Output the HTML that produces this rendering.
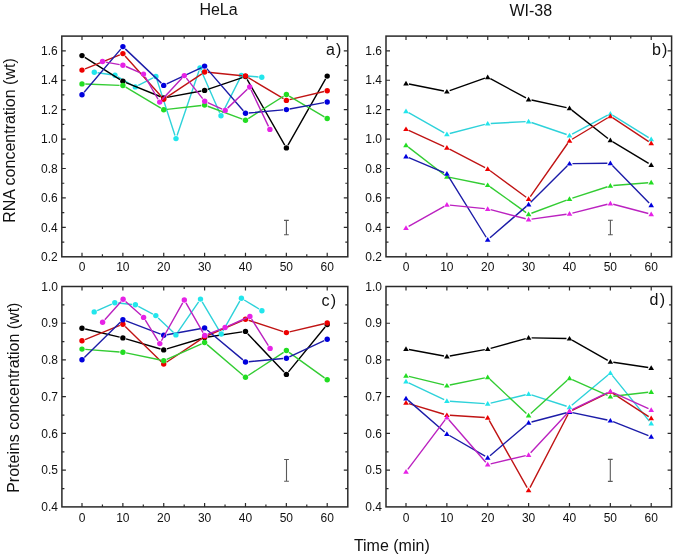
<!DOCTYPE html>
<html><head><meta charset="utf-8"><title>RNA and protein concentration</title>
<style>
html,body{margin:0;padding:0;background:#fff;}
body{width:675px;height:558px;overflow:hidden;font-family:"Liberation Sans",sans-serif;}
svg{display:block;will-change:transform;}
</style></head><body>
<svg width="675" height="558" viewBox="0 0 675 558" font-family="Liberation Sans, sans-serif" font-size="12" fill="#111">
<rect width="675" height="558" fill="#fff"/>
<path d="M82.00 256.80v-4.0M82.00 36.10v4.0M102.44 256.80v-2.5M102.44 36.10v2.5M122.87 256.80v-4.0M122.87 36.10v4.0M143.31 256.80v-2.5M143.31 36.10v2.5M163.74 256.80v-4.0M163.74 36.10v4.0M184.18 256.80v-2.5M184.18 36.10v2.5M204.61 256.80v-4.0M204.61 36.10v4.0M225.04 256.80v-2.5M225.04 36.10v2.5M245.48 256.80v-4.0M245.48 36.10v4.0M265.91 256.80v-2.5M265.91 36.10v2.5M286.35 256.80v-4.0M286.35 36.10v4.0M306.78 256.80v-2.5M306.78 36.10v2.5M327.22 256.80v-4.0M327.22 36.10v4.0M61.80 242.09h2.5M347.80 242.09h-2.5M61.80 227.37h4.0M347.80 227.37h-4.0M61.80 212.66h2.5M347.80 212.66h-2.5M61.80 197.95h4.0M347.80 197.95h-4.0M61.80 183.23h2.5M347.80 183.23h-2.5M61.80 168.52h4.0M347.80 168.52h-4.0M61.80 153.81h2.5M347.80 153.81h-2.5M61.80 139.09h4.0M347.80 139.09h-4.0M61.80 124.38h2.5M347.80 124.38h-2.5M61.80 109.67h4.0M347.80 109.67h-4.0M61.80 94.95h2.5M347.80 94.95h-2.5M61.80 80.24h4.0M347.80 80.24h-4.0M61.80 65.53h2.5M347.80 65.53h-2.5M61.80 50.81h4.0M347.80 50.81h-4.0" stroke="#2a2a2a" stroke-width="1.2" fill="none"/>
<rect x="61.8" y="36.1" width="286.00" height="220.70" fill="none" stroke="#2a2a2a" stroke-width="1.5"/>
<text x="82.00" y="271.40" text-anchor="middle">0</text>
<text x="122.87" y="271.40" text-anchor="middle">10</text>
<text x="163.74" y="271.40" text-anchor="middle">20</text>
<text x="204.61" y="271.40" text-anchor="middle">30</text>
<text x="245.48" y="271.40" text-anchor="middle">40</text>
<text x="286.35" y="271.40" text-anchor="middle">50</text>
<text x="327.22" y="271.40" text-anchor="middle">60</text>
<text x="57.80" y="261.00" text-anchor="end">0.2</text>
<text x="57.80" y="231.57" text-anchor="end">0.4</text>
<text x="57.80" y="202.15" text-anchor="end">0.6</text>
<text x="57.80" y="172.72" text-anchor="end">0.8</text>
<text x="57.80" y="143.29" text-anchor="end">1.0</text>
<text x="57.80" y="113.87" text-anchor="end">1.2</text>
<text x="57.80" y="84.44" text-anchor="end">1.4</text>
<text x="57.80" y="55.01" text-anchor="end">1.6</text>
<text x="325.9" y="55.1" font-size="16">a</text>
<text x="341.4" y="55.1" text-anchor="end" font-size="16">)</text>
<path d="M406.00 256.80v-4.0M406.00 36.10v4.0M426.44 256.80v-2.5M426.44 36.10v2.5M446.87 256.80v-4.0M446.87 36.10v4.0M467.31 256.80v-2.5M467.31 36.10v2.5M487.74 256.80v-4.0M487.74 36.10v4.0M508.18 256.80v-2.5M508.18 36.10v2.5M528.61 256.80v-4.0M528.61 36.10v4.0M549.04 256.80v-2.5M549.04 36.10v2.5M569.48 256.80v-4.0M569.48 36.10v4.0M589.91 256.80v-2.5M589.91 36.10v2.5M610.35 256.80v-4.0M610.35 36.10v4.0M630.78 256.80v-2.5M630.78 36.10v2.5M651.22 256.80v-4.0M651.22 36.10v4.0M386.00 242.09h2.5M671.60 242.09h-2.5M386.00 227.37h4.0M671.60 227.37h-4.0M386.00 212.66h2.5M671.60 212.66h-2.5M386.00 197.95h4.0M671.60 197.95h-4.0M386.00 183.23h2.5M671.60 183.23h-2.5M386.00 168.52h4.0M671.60 168.52h-4.0M386.00 153.81h2.5M671.60 153.81h-2.5M386.00 139.09h4.0M671.60 139.09h-4.0M386.00 124.38h2.5M671.60 124.38h-2.5M386.00 109.67h4.0M671.60 109.67h-4.0M386.00 94.95h2.5M671.60 94.95h-2.5M386.00 80.24h4.0M671.60 80.24h-4.0M386.00 65.53h2.5M671.60 65.53h-2.5M386.00 50.81h4.0M671.60 50.81h-4.0" stroke="#2a2a2a" stroke-width="1.2" fill="none"/>
<rect x="386.0" y="36.1" width="285.60" height="220.70" fill="none" stroke="#2a2a2a" stroke-width="1.5"/>
<text x="406.00" y="271.40" text-anchor="middle">0</text>
<text x="446.87" y="271.40" text-anchor="middle">10</text>
<text x="487.74" y="271.40" text-anchor="middle">20</text>
<text x="528.61" y="271.40" text-anchor="middle">30</text>
<text x="569.48" y="271.40" text-anchor="middle">40</text>
<text x="610.35" y="271.40" text-anchor="middle">50</text>
<text x="651.22" y="271.40" text-anchor="middle">60</text>
<text x="382.00" y="261.00" text-anchor="end">0.2</text>
<text x="382.00" y="231.57" text-anchor="end">0.4</text>
<text x="382.00" y="202.15" text-anchor="end">0.6</text>
<text x="382.00" y="172.72" text-anchor="end">0.8</text>
<text x="382.00" y="143.29" text-anchor="end">1.0</text>
<text x="382.00" y="113.87" text-anchor="end">1.2</text>
<text x="382.00" y="84.44" text-anchor="end">1.4</text>
<text x="382.00" y="55.01" text-anchor="end">1.6</text>
<text x="652.0" y="55.1" font-size="16">b</text>
<text x="667.4" y="55.1" text-anchor="end" font-size="16">)</text>
<path d="M82.00 506.90v-4.0M82.00 286.50v4.0M102.44 506.90v-2.5M102.44 286.50v2.5M122.87 506.90v-4.0M122.87 286.50v4.0M143.31 506.90v-2.5M143.31 286.50v2.5M163.74 506.90v-4.0M163.74 286.50v4.0M184.18 506.90v-2.5M184.18 286.50v2.5M204.61 506.90v-4.0M204.61 286.50v4.0M225.04 506.90v-2.5M225.04 286.50v2.5M245.48 506.90v-4.0M245.48 286.50v4.0M265.91 506.90v-2.5M265.91 286.50v2.5M286.35 506.90v-4.0M286.35 286.50v4.0M306.78 506.90v-2.5M306.78 286.50v2.5M327.22 506.90v-4.0M327.22 286.50v4.0M61.90 488.53h2.5M347.80 488.53h-2.5M61.90 470.17h4.0M347.80 470.17h-4.0M61.90 451.80h2.5M347.80 451.80h-2.5M61.90 433.43h4.0M347.80 433.43h-4.0M61.90 415.07h2.5M347.80 415.07h-2.5M61.90 396.70h4.0M347.80 396.70h-4.0M61.90 378.33h2.5M347.80 378.33h-2.5M61.90 359.97h4.0M347.80 359.97h-4.0M61.90 341.60h2.5M347.80 341.60h-2.5M61.90 323.23h4.0M347.80 323.23h-4.0M61.90 304.87h2.5M347.80 304.87h-2.5" stroke="#2a2a2a" stroke-width="1.2" fill="none"/>
<rect x="61.9" y="286.5" width="285.90" height="220.40" fill="none" stroke="#2a2a2a" stroke-width="1.5"/>
<text x="82.00" y="521.50" text-anchor="middle">0</text>
<text x="122.87" y="521.50" text-anchor="middle">10</text>
<text x="163.74" y="521.50" text-anchor="middle">20</text>
<text x="204.61" y="521.50" text-anchor="middle">30</text>
<text x="245.48" y="521.50" text-anchor="middle">40</text>
<text x="286.35" y="521.50" text-anchor="middle">50</text>
<text x="327.22" y="521.50" text-anchor="middle">60</text>
<text x="57.90" y="511.10" text-anchor="end">0.4</text>
<text x="57.90" y="474.37" text-anchor="end">0.5</text>
<text x="57.90" y="437.63" text-anchor="end">0.6</text>
<text x="57.90" y="400.90" text-anchor="end">0.7</text>
<text x="57.90" y="364.17" text-anchor="end">0.8</text>
<text x="57.90" y="327.43" text-anchor="end">0.9</text>
<text x="57.90" y="290.70" text-anchor="end">1.0</text>
<text x="321.4" y="306.3" font-size="16">c</text>
<text x="336.0" y="306.3" text-anchor="end" font-size="16">)</text>
<path d="M406.00 506.90v-4.0M406.00 286.50v4.0M426.44 506.90v-2.5M426.44 286.50v2.5M446.87 506.90v-4.0M446.87 286.50v4.0M467.31 506.90v-2.5M467.31 286.50v2.5M487.74 506.90v-4.0M487.74 286.50v4.0M508.18 506.90v-2.5M508.18 286.50v2.5M528.61 506.90v-4.0M528.61 286.50v4.0M549.04 506.90v-2.5M549.04 286.50v2.5M569.48 506.90v-4.0M569.48 286.50v4.0M589.91 506.90v-2.5M589.91 286.50v2.5M610.35 506.90v-4.0M610.35 286.50v4.0M630.78 506.90v-2.5M630.78 286.50v2.5M651.22 506.90v-4.0M651.22 286.50v4.0M386.00 488.53h2.5M671.60 488.53h-2.5M386.00 470.17h4.0M671.60 470.17h-4.0M386.00 451.80h2.5M671.60 451.80h-2.5M386.00 433.43h4.0M671.60 433.43h-4.0M386.00 415.07h2.5M671.60 415.07h-2.5M386.00 396.70h4.0M671.60 396.70h-4.0M386.00 378.33h2.5M671.60 378.33h-2.5M386.00 359.97h4.0M671.60 359.97h-4.0M386.00 341.60h2.5M671.60 341.60h-2.5M386.00 323.23h4.0M671.60 323.23h-4.0M386.00 304.87h2.5M671.60 304.87h-2.5" stroke="#2a2a2a" stroke-width="1.2" fill="none"/>
<rect x="386.0" y="286.5" width="285.60" height="220.40" fill="none" stroke="#2a2a2a" stroke-width="1.5"/>
<text x="406.00" y="521.50" text-anchor="middle">0</text>
<text x="446.87" y="521.50" text-anchor="middle">10</text>
<text x="487.74" y="521.50" text-anchor="middle">20</text>
<text x="528.61" y="521.50" text-anchor="middle">30</text>
<text x="569.48" y="521.50" text-anchor="middle">40</text>
<text x="610.35" y="521.50" text-anchor="middle">50</text>
<text x="651.22" y="521.50" text-anchor="middle">60</text>
<text x="382.00" y="511.10" text-anchor="end">0.4</text>
<text x="382.00" y="474.37" text-anchor="end">0.5</text>
<text x="382.00" y="437.63" text-anchor="end">0.6</text>
<text x="382.00" y="400.90" text-anchor="end">0.7</text>
<text x="382.00" y="364.17" text-anchor="end">0.8</text>
<text x="382.00" y="327.43" text-anchor="end">0.9</text>
<text x="382.00" y="290.70" text-anchor="end">1.0</text>
<text x="649.6" y="305.3" font-size="16">d</text>
<text x="665.2" y="305.3" text-anchor="end" font-size="16">)</text>
<path d="M97.57 72.76L111.73 74.74M117.86 76.85L132.44 85.25M138.25 85.41L152.95 77.99M156.92 79.64L174.98 135.46M177.06 135.48L198.94 71.02M201.33 70.92L219.67 112.78M222.49 112.85L239.91 78.35M244.69 75.71L258.51 76.99" stroke="#2ed2da" stroke-width="1.4" fill="none"/>
<circle cx="94.3" cy="72.3" r="2.7" fill="#22e6ec"/>
<circle cx="115.0" cy="75.2" r="2.7" fill="#22e6ec"/>
<circle cx="135.3" cy="86.9" r="2.7" fill="#22e6ec"/>
<circle cx="155.9" cy="76.5" r="2.7" fill="#22e6ec"/>
<circle cx="176.0" cy="138.6" r="2.7" fill="#22e6ec"/>
<circle cx="200.0" cy="67.9" r="2.7" fill="#22e6ec"/>
<circle cx="221.0" cy="115.8" r="2.7" fill="#22e6ec"/>
<circle cx="241.4" cy="75.4" r="2.7" fill="#22e6ec"/>
<circle cx="261.8" cy="77.3" r="2.7" fill="#22e6ec"/>
<path d="M84.79 57.36L120.08 79.54M125.92 82.55L160.69 96.75M166.98 97.40L201.37 91.00M207.73 89.34L242.36 77.56M247.12 79.36L284.71 145.04M287.98 145.03L325.59 78.97" stroke="#000000" stroke-width="1.4" fill="none"/>
<circle cx="82.0" cy="55.6" r="2.7" fill="#000000"/>
<circle cx="122.9" cy="81.3" r="2.7" fill="#000000"/>
<circle cx="163.7" cy="98.0" r="2.7" fill="#000000"/>
<circle cx="204.6" cy="90.4" r="2.7" fill="#000000"/>
<circle cx="245.5" cy="76.5" r="2.7" fill="#000000"/>
<circle cx="286.4" cy="147.9" r="2.7" fill="#000000"/>
<circle cx="327.2" cy="76.1" r="2.7" fill="#000000"/>
<path d="M85.06 68.86L119.81 54.84M125.07 56.06L161.54 96.74M166.49 97.37L201.86 73.83M207.89 72.32L242.20 75.68M248.31 77.69L283.52 98.71M289.56 99.64L324.01 91.46" stroke="#c01414" stroke-width="1.4" fill="none"/>
<circle cx="82.0" cy="70.1" r="2.7" fill="#ee0000"/>
<circle cx="122.9" cy="53.6" r="2.7" fill="#ee0000"/>
<circle cx="163.7" cy="99.2" r="2.7" fill="#ee0000"/>
<circle cx="204.6" cy="72.0" r="2.7" fill="#ee0000"/>
<circle cx="245.5" cy="76.0" r="2.7" fill="#ee0000"/>
<circle cx="286.4" cy="100.4" r="2.7" fill="#ee0000"/>
<circle cx="327.2" cy="90.7" r="2.7" fill="#ee0000"/>
<path d="M85.30 84.03L119.57 85.37M125.71 87.19L160.90 108.11M167.02 109.42L201.33 105.48M207.70 106.25L242.39 119.15M248.27 118.54L283.56 96.26M289.20 96.17L324.37 116.83" stroke="#33cc33" stroke-width="1.4" fill="none"/>
<circle cx="82.0" cy="83.9" r="2.7" fill="#22dd22"/>
<circle cx="122.9" cy="85.5" r="2.7" fill="#22dd22"/>
<circle cx="163.7" cy="109.8" r="2.7" fill="#22dd22"/>
<circle cx="204.6" cy="105.1" r="2.7" fill="#22dd22"/>
<circle cx="245.5" cy="120.3" r="2.7" fill="#22dd22"/>
<circle cx="286.4" cy="94.5" r="2.7" fill="#22dd22"/>
<circle cx="327.2" cy="118.5" r="2.7" fill="#22dd22"/>
<path d="M84.13 92.28L120.74 49.12M125.26 48.87L161.35 83.13M166.72 83.99L201.63 67.51M206.77 68.59L243.32 110.81M248.77 113.00L283.06 109.90M289.59 109.00L323.98 102.60" stroke="#1c1ca8" stroke-width="1.4" fill="none"/>
<circle cx="82.0" cy="94.8" r="2.7" fill="#0000dd"/>
<circle cx="122.9" cy="46.6" r="2.7" fill="#0000dd"/>
<circle cx="163.7" cy="85.4" r="2.7" fill="#0000dd"/>
<circle cx="204.6" cy="66.1" r="2.7" fill="#0000dd"/>
<circle cx="245.5" cy="113.3" r="2.7" fill="#0000dd"/>
<circle cx="286.4" cy="109.6" r="2.7" fill="#0000dd"/>
<circle cx="327.2" cy="102.0" r="2.7" fill="#0000dd"/>
<path d="M105.75 62.09L119.65 64.61M125.93 66.51L140.47 72.79M145.15 76.96L158.05 99.24M161.95 99.68L182.05 78.02M186.36 78.18L202.64 98.62M207.71 102.55L222.19 109.05M227.59 108.12L247.31 89.28M251.12 89.98L268.48 126.42" stroke="#bb22c0" stroke-width="1.4" fill="none"/>
<circle cx="102.5" cy="61.5" r="2.7" fill="#e622e6"/>
<circle cx="122.9" cy="65.2" r="2.7" fill="#e622e6"/>
<circle cx="143.5" cy="74.1" r="2.7" fill="#e622e6"/>
<circle cx="159.7" cy="102.1" r="2.7" fill="#e622e6"/>
<circle cx="184.3" cy="75.6" r="2.7" fill="#e622e6"/>
<circle cx="204.7" cy="101.2" r="2.7" fill="#e622e6"/>
<circle cx="225.2" cy="110.4" r="2.7" fill="#e622e6"/>
<circle cx="249.7" cy="87.0" r="2.7" fill="#e622e6"/>
<circle cx="269.9" cy="129.4" r="2.7" fill="#e622e6"/>
<path d="M408.61 112.68L444.26 132.82M449.77 133.54L484.84 124.36M490.74 123.45L525.61 121.65M531.45 122.47L566.64 134.53M572.13 134.09L607.70 115.11M612.89 115.29L648.68 137.71" stroke="#2ed2da" stroke-width="1.4" fill="none"/>
<path d="M406.0 108.5L408.8 113.2L403.2 113.2Z" fill="#22e6ec"/>
<path d="M446.9 131.6L449.7 136.3L444.1 136.3Z" fill="#22e6ec"/>
<path d="M487.7 120.9L490.5 125.6L484.9 125.6Z" fill="#22e6ec"/>
<path d="M528.6 118.8L531.4 123.5L525.8 123.5Z" fill="#22e6ec"/>
<path d="M569.5 132.8L572.3 137.5L566.7 137.5Z" fill="#22e6ec"/>
<path d="M610.4 111.0L613.1 115.7L607.6 115.7Z" fill="#22e6ec"/>
<path d="M651.2 136.6L654.0 141.3L648.4 141.3Z" fill="#22e6ec"/>
<path d="M408.94 83.99L443.93 91.01M449.70 90.60L484.91 78.20M490.38 78.63L525.97 97.97M531.54 100.04L566.55 107.66M571.84 110.15L607.99 138.45M612.92 141.85L648.65 163.35" stroke="#000000" stroke-width="1.4" fill="none"/>
<path d="M406.0 80.7L408.8 85.4L403.2 85.4Z" fill="#000000"/>
<path d="M446.9 88.9L449.7 93.6L444.1 93.6Z" fill="#000000"/>
<path d="M487.7 74.5L490.5 79.2L484.9 79.2Z" fill="#000000"/>
<path d="M528.6 96.7L531.4 101.4L525.8 101.4Z" fill="#000000"/>
<path d="M569.5 105.6L572.3 110.3L566.7 110.3Z" fill="#000000"/>
<path d="M610.4 137.6L613.1 142.3L607.6 142.3Z" fill="#000000"/>
<path d="M651.2 162.2L654.0 166.9L648.4 166.9Z" fill="#000000"/>
<path d="M408.73 130.35L444.14 146.55M449.53 149.18L485.08 167.62M490.16 170.78L526.19 197.22M530.33 196.54L567.76 143.26M572.05 139.25L607.78 117.75M612.85 117.85L648.72 141.55" stroke="#c01414" stroke-width="1.4" fill="none"/>
<path d="M406.0 126.4L408.8 131.1L403.2 131.1Z" fill="#ee0000"/>
<path d="M446.9 145.1L449.7 149.8L444.1 149.8Z" fill="#ee0000"/>
<path d="M487.7 166.3L490.5 171.0L484.9 171.0Z" fill="#ee0000"/>
<path d="M528.6 196.3L531.4 201.0L525.8 201.0Z" fill="#ee0000"/>
<path d="M569.5 138.1L572.3 142.8L566.7 142.8Z" fill="#ee0000"/>
<path d="M610.4 113.5L613.1 118.2L607.6 118.2Z" fill="#ee0000"/>
<path d="M651.2 140.5L654.0 145.2L648.4 145.2Z" fill="#ee0000"/>
<path d="M408.38 147.13L444.49 174.97M449.81 177.40L484.80 184.50M490.18 186.84L526.17 212.56M531.42 213.25L566.67 200.05M572.33 198.08L607.50 186.72M613.34 185.56L648.23 182.74" stroke="#33cc33" stroke-width="1.4" fill="none"/>
<path d="M406.0 142.6L408.8 147.3L403.2 147.3Z" fill="#22dd22"/>
<path d="M446.9 174.1L449.7 178.8L444.1 178.8Z" fill="#22dd22"/>
<path d="M487.7 182.4L490.5 187.1L484.9 187.1Z" fill="#22dd22"/>
<path d="M528.6 211.6L531.4 216.3L525.8 216.3Z" fill="#22dd22"/>
<path d="M569.5 196.3L572.3 201.0L566.7 201.0Z" fill="#22dd22"/>
<path d="M610.4 183.1L613.1 187.8L607.6 187.8Z" fill="#22dd22"/>
<path d="M651.2 179.8L654.0 184.5L648.4 184.5Z" fill="#22dd22"/>
<path d="M408.76 157.67L444.11 172.63M448.45 176.35L486.16 237.25M490.01 237.84L526.34 206.36M530.73 202.28L567.36 165.72M572.48 163.58L607.35 163.32M612.44 165.45L649.13 203.05" stroke="#1c1ca8" stroke-width="1.4" fill="none"/>
<path d="M406.0 153.8L408.8 158.5L403.2 158.5Z" fill="#0000dd"/>
<path d="M446.9 171.1L449.7 175.8L444.1 175.8Z" fill="#0000dd"/>
<path d="M487.7 237.1L490.5 241.8L484.9 241.8Z" fill="#0000dd"/>
<path d="M528.6 201.7L531.4 206.4L525.8 206.4Z" fill="#0000dd"/>
<path d="M569.5 160.9L572.3 165.6L566.7 165.6Z" fill="#0000dd"/>
<path d="M610.4 160.6L613.1 165.3L607.6 165.3Z" fill="#0000dd"/>
<path d="M651.2 202.5L654.0 207.2L648.4 207.2Z" fill="#0000dd"/>
<path d="M408.61 226.42L444.26 206.28M449.86 205.10L484.75 208.60M490.64 209.65L525.71 218.75M531.58 219.09L566.51 214.21M572.39 213.07L607.44 204.23M613.25 204.27L648.32 213.53" stroke="#bb22c0" stroke-width="1.4" fill="none"/>
<path d="M406.0 225.2L408.8 229.9L403.2 229.9Z" fill="#e622e6"/>
<path d="M446.9 202.1L449.7 206.8L444.1 206.8Z" fill="#e622e6"/>
<path d="M487.7 206.2L490.5 210.9L484.9 210.9Z" fill="#e622e6"/>
<path d="M528.6 216.8L531.4 221.5L525.8 221.5Z" fill="#e622e6"/>
<path d="M569.5 211.1L572.3 215.8L566.7 215.8Z" fill="#e622e6"/>
<path d="M610.4 200.8L613.1 205.5L607.6 205.5Z" fill="#e622e6"/>
<path d="M651.2 211.6L654.0 216.3L648.4 216.3Z" fill="#e622e6"/>
<path d="M85.21 329.05L119.66 337.15M126.04 338.83L160.57 348.97M166.90 348.94L201.45 338.46M207.87 337.01L242.22 331.89M247.75 333.79L284.08 372.01M288.44 371.85L325.13 327.05" stroke="#000000" stroke-width="1.4" fill="none"/>
<circle cx="82.0" cy="328.3" r="2.7" fill="#000000"/>
<circle cx="122.9" cy="337.9" r="2.7" fill="#000000"/>
<circle cx="163.7" cy="349.9" r="2.7" fill="#000000"/>
<circle cx="204.6" cy="337.5" r="2.7" fill="#000000"/>
<circle cx="245.5" cy="331.4" r="2.7" fill="#000000"/>
<circle cx="286.4" cy="374.4" r="2.7" fill="#000000"/>
<circle cx="327.2" cy="324.5" r="2.7" fill="#000000"/>
<path d="M85.06 339.56L119.81 325.44M125.23 326.51L161.38 361.79M166.48 362.27L201.87 338.63M207.64 335.49L242.45 320.51M248.62 320.23L283.21 331.57M289.56 331.85L324.01 323.75" stroke="#c01414" stroke-width="1.4" fill="none"/>
<circle cx="82.0" cy="340.8" r="2.7" fill="#ee0000"/>
<circle cx="122.9" cy="324.2" r="2.7" fill="#ee0000"/>
<circle cx="163.7" cy="364.1" r="2.7" fill="#ee0000"/>
<circle cx="204.6" cy="336.8" r="2.7" fill="#ee0000"/>
<circle cx="245.5" cy="319.2" r="2.7" fill="#ee0000"/>
<circle cx="286.4" cy="332.6" r="2.7" fill="#ee0000"/>
<circle cx="327.2" cy="323.0" r="2.7" fill="#ee0000"/>
<path d="M85.29 349.35L119.58 351.95M126.10 352.87L160.51 360.03M166.75 359.36L201.60 343.84M207.12 344.64L242.97 375.16M248.24 375.49L283.59 352.31M289.03 352.42L324.54 377.88" stroke="#33cc33" stroke-width="1.4" fill="none"/>
<circle cx="82.0" cy="349.1" r="2.7" fill="#22dd22"/>
<circle cx="122.9" cy="352.2" r="2.7" fill="#22dd22"/>
<circle cx="163.7" cy="360.7" r="2.7" fill="#22dd22"/>
<circle cx="204.6" cy="342.5" r="2.7" fill="#22dd22"/>
<circle cx="245.5" cy="377.3" r="2.7" fill="#22dd22"/>
<circle cx="286.4" cy="350.5" r="2.7" fill="#22dd22"/>
<circle cx="327.2" cy="379.8" r="2.7" fill="#22dd22"/>
<path d="M84.36 357.39L120.51 322.11M125.96 320.97L160.65 334.13M166.99 334.71L201.36 328.49M207.14 330.01L242.95 359.89M248.77 361.69L283.06 358.51M289.35 356.81L324.22 340.69" stroke="#1c1ca8" stroke-width="1.4" fill="none"/>
<circle cx="82.0" cy="359.7" r="2.7" fill="#0000dd"/>
<circle cx="122.9" cy="319.8" r="2.7" fill="#0000dd"/>
<circle cx="163.7" cy="335.3" r="2.7" fill="#0000dd"/>
<circle cx="204.6" cy="327.9" r="2.7" fill="#0000dd"/>
<circle cx="245.5" cy="362.0" r="2.7" fill="#0000dd"/>
<circle cx="286.4" cy="358.2" r="2.7" fill="#0000dd"/>
<circle cx="327.2" cy="339.3" r="2.7" fill="#0000dd"/>
<path d="M97.21 310.55L111.79 304.05M118.08 303.03L132.12 304.47M138.32 306.34L152.88 314.06M158.18 317.89L173.52 332.61M177.77 332.18L198.63 301.82M202.18 301.94L219.52 331.16M222.83 331.13L239.77 301.17M244.22 300.01L259.08 308.99" stroke="#2ed2da" stroke-width="1.4" fill="none"/>
<circle cx="94.2" cy="311.9" r="2.7" fill="#22e6ec"/>
<circle cx="114.8" cy="302.7" r="2.7" fill="#22e6ec"/>
<circle cx="135.4" cy="304.8" r="2.7" fill="#22e6ec"/>
<circle cx="155.8" cy="315.6" r="2.7" fill="#22e6ec"/>
<circle cx="175.9" cy="334.9" r="2.7" fill="#22e6ec"/>
<circle cx="200.5" cy="299.1" r="2.7" fill="#22e6ec"/>
<circle cx="221.2" cy="334.0" r="2.7" fill="#22e6ec"/>
<circle cx="241.4" cy="298.3" r="2.7" fill="#22e6ec"/>
<circle cx="261.9" cy="310.7" r="2.7" fill="#22e6ec"/>
<path d="M104.80 319.74L120.90 301.76M125.57 301.48L141.13 315.22M145.34 320.21L158.06 340.79M161.42 340.72L182.68 302.88M185.95 302.86L203.05 332.54M207.78 334.21L222.02 328.69M228.11 326.15L246.89 317.75M251.66 319.19L268.34 345.61" stroke="#bb22c0" stroke-width="1.4" fill="none"/>
<circle cx="102.6" cy="322.2" r="2.7" fill="#e622e6"/>
<circle cx="123.1" cy="299.3" r="2.7" fill="#e622e6"/>
<circle cx="143.6" cy="317.4" r="2.7" fill="#e622e6"/>
<circle cx="159.8" cy="343.6" r="2.7" fill="#e622e6"/>
<circle cx="184.3" cy="300.0" r="2.7" fill="#e622e6"/>
<circle cx="204.7" cy="335.4" r="2.7" fill="#e622e6"/>
<circle cx="225.1" cy="327.5" r="2.7" fill="#e622e6"/>
<circle cx="249.9" cy="316.4" r="2.7" fill="#e622e6"/>
<circle cx="270.1" cy="348.4" r="2.7" fill="#e622e6"/>
<path d="M408.71 382.79L444.16 399.71M449.86 401.21L484.75 403.59M490.66 403.10L525.69 394.70M531.46 394.92L566.63 406.28M571.78 405.27L608.05 374.93M612.24 375.33L649.33 421.07" stroke="#2ed2da" stroke-width="1.4" fill="none"/>
<path d="M406.0 378.8L408.8 383.5L403.2 383.5Z" fill="#22e6ec"/>
<path d="M446.9 398.3L449.7 403.0L444.1 403.0Z" fill="#22e6ec"/>
<path d="M487.7 401.1L490.5 405.8L484.9 405.8Z" fill="#22e6ec"/>
<path d="M528.6 391.3L531.4 396.0L525.8 396.0Z" fill="#22e6ec"/>
<path d="M569.5 404.5L572.3 409.2L566.7 409.2Z" fill="#22e6ec"/>
<path d="M610.4 370.3L613.1 375.0L607.6 375.0Z" fill="#22e6ec"/>
<path d="M651.2 420.7L654.0 425.4L648.4 425.4Z" fill="#22e6ec"/>
<path d="M408.95 349.54L443.92 355.96M449.82 355.97L484.79 349.63M490.63 348.30L525.72 338.60M531.61 337.86L566.48 338.54M572.09 340.08L607.74 360.32M613.32 362.25L648.25 367.55" stroke="#000000" stroke-width="1.4" fill="none"/>
<path d="M406.0 346.3L408.8 351.0L403.2 351.0Z" fill="#000000"/>
<path d="M446.9 353.8L449.7 358.5L444.1 358.5Z" fill="#000000"/>
<path d="M487.7 346.4L490.5 351.1L484.9 351.1Z" fill="#000000"/>
<path d="M528.6 335.1L531.4 339.8L525.8 339.8Z" fill="#000000"/>
<path d="M569.5 335.9L572.3 340.6L566.7 340.6Z" fill="#000000"/>
<path d="M610.4 359.1L613.1 363.8L607.6 363.8Z" fill="#000000"/>
<path d="M651.2 365.3L654.0 370.0L648.4 370.0Z" fill="#000000"/>
<path d="M408.87 403.57L444.00 414.23M449.86 415.29L484.75 417.51M489.21 420.31L527.14 487.69M529.99 487.64L568.10 414.26M572.18 410.29L607.65 393.11M612.87 393.43L648.70 416.57" stroke="#c01414" stroke-width="1.4" fill="none"/>
<path d="M406.0 400.0L408.8 404.7L403.2 404.7Z" fill="#ee0000"/>
<path d="M446.9 412.4L449.7 417.1L444.1 417.1Z" fill="#ee0000"/>
<path d="M487.7 415.0L490.5 419.7L484.9 419.7Z" fill="#ee0000"/>
<path d="M528.6 487.6L531.4 492.3L525.8 492.3Z" fill="#ee0000"/>
<path d="M569.5 408.9L572.3 413.6L566.7 413.6Z" fill="#ee0000"/>
<path d="M610.4 389.1L613.1 393.8L607.6 393.8Z" fill="#ee0000"/>
<path d="M651.2 415.5L654.0 420.2L648.4 420.2Z" fill="#ee0000"/>
<path d="M408.92 376.41L443.95 384.89M449.81 385.00L484.80 377.90M489.93 379.35L526.42 413.45M530.83 413.48L567.26 380.32M572.22 379.53L607.61 395.37M613.33 396.26L648.24 392.24" stroke="#33cc33" stroke-width="1.4" fill="none"/>
<path d="M406.0 373.0L408.8 377.7L403.2 377.7Z" fill="#22dd22"/>
<path d="M446.9 382.9L449.7 387.6L444.1 387.6Z" fill="#22dd22"/>
<path d="M487.7 374.6L490.5 379.3L484.9 379.3Z" fill="#22dd22"/>
<path d="M528.6 412.8L531.4 417.5L525.8 417.5Z" fill="#22dd22"/>
<path d="M569.5 375.6L572.3 380.3L566.7 380.3Z" fill="#22dd22"/>
<path d="M610.4 393.9L613.1 398.6L607.6 398.6Z" fill="#22dd22"/>
<path d="M651.2 389.2L654.0 393.9L648.4 393.9Z" fill="#22dd22"/>
<path d="M408.26 400.37L444.61 432.03M449.47 435.50L485.14 456.20M490.02 455.75L526.33 424.75M531.51 422.03L566.58 412.77M572.42 412.62L607.41 419.98M613.14 421.71L648.43 435.69" stroke="#1c1ca8" stroke-width="1.4" fill="none"/>
<path d="M406.0 395.7L408.8 400.4L403.2 400.4Z" fill="#0000dd"/>
<path d="M446.9 431.3L449.7 436.0L444.1 436.0Z" fill="#0000dd"/>
<path d="M487.7 455.0L490.5 459.7L484.9 459.7Z" fill="#0000dd"/>
<path d="M528.6 420.1L531.4 424.8L525.8 424.8Z" fill="#0000dd"/>
<path d="M569.5 409.3L572.3 414.0L566.7 414.0Z" fill="#0000dd"/>
<path d="M610.4 417.9L613.1 422.6L607.6 422.6Z" fill="#0000dd"/>
<path d="M651.2 434.1L654.0 438.8L648.4 438.8Z" fill="#0000dd"/>
<path d="M407.80 469.40L445.07 419.90M448.84 419.76L485.77 462.24M490.66 463.82L525.69 455.68M530.65 452.80L567.44 413.20M572.18 409.70L607.65 392.60M613.08 392.54L648.49 408.66" stroke="#bb22c0" stroke-width="1.4" fill="none"/>
<path d="M406.0 469.1L408.8 473.8L403.2 473.8Z" fill="#e622e6"/>
<path d="M446.9 414.8L449.7 419.5L444.1 419.5Z" fill="#e622e6"/>
<path d="M487.7 461.8L490.5 466.5L484.9 466.5Z" fill="#e622e6"/>
<path d="M528.6 452.3L531.4 457.0L525.8 457.0Z" fill="#e622e6"/>
<path d="M569.5 408.3L572.3 413.0L566.7 413.0Z" fill="#e622e6"/>
<path d="M610.4 388.6L613.1 393.3L607.6 393.3Z" fill="#e622e6"/>
<path d="M651.2 407.2L654.0 411.9L648.4 411.9Z" fill="#e622e6"/>
<path d="M286.4 220.4V234.8M284.0 220.4h4.8M284.0 234.8h4.8" stroke="#5a5a5a" stroke-width="1.1" fill="none"/>
<path d="M610.4 220.3V234.8M608.0 220.3h4.8M608.0 234.8h4.8" stroke="#5a5a5a" stroke-width="1.1" fill="none"/>
<path d="M286.5 459.5V481.3M284.1 459.5h4.8M284.1 481.3h4.8" stroke="#5a5a5a" stroke-width="1.1" fill="none"/>
<path d="M610.3 459.4V481.4M607.9 459.4h4.8M607.9 481.4h4.8" stroke="#5a5a5a" stroke-width="1.1" fill="none"/>
<text x="218.5" y="14.6" text-anchor="middle" font-size="16">HeLa</text>
<text x="530.8" y="15.9" text-anchor="middle" font-size="16">WI-38</text>
<text x="391.8" y="551.2" text-anchor="middle" font-size="16">Time (min)</text>
<text transform="translate(14.6 140.5) rotate(-90)" text-anchor="middle" font-size="16">RNA concentration (wt)</text>
<text transform="translate(18.5 397.7) rotate(-90)" text-anchor="middle" font-size="16">Proteins concentration (wt)</text>
</svg>
</body></html>
